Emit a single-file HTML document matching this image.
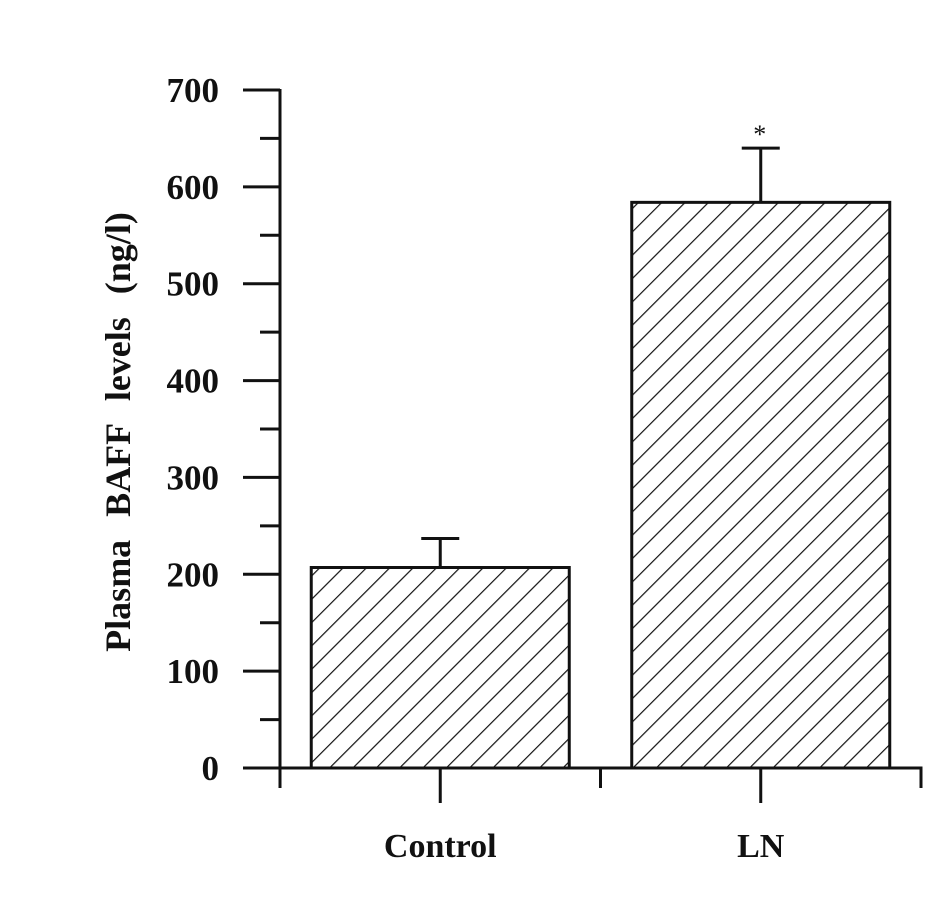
<!DOCTYPE html>
<html><head><meta charset="utf-8"><style>
html,body{margin:0;padding:0;background:#fff;width:945px;height:904px;overflow:hidden}
text{font-family:"Liberation Serif",serif;font-weight:bold;fill:#111}
</style></head><body>
<svg id="chart" width="945" height="904" xmlns="http://www.w3.org/2000/svg">
<defs>
<pattern id="hatch" patternUnits="userSpaceOnUse" width="16.5" height="16.5" patternTransform="rotate(45)">
<line x1="0" y1="0" x2="0" y2="16.5" stroke="#111" stroke-width="2.4"/>
</pattern>
</defs>
<g id="plot"></g>
</svg>
<script>
const categories = ["Control", "LN"];
const values = [207, 584];
const errors = [30, 56];
const sigMarks = ["", "*"];
const yTicks = [0, 100, 200, 300, 400, 500, 600, 700];

const NS = "http://www.w3.org/2000/svg";
const g = document.getElementById("plot");
const X0 = 280, X1 = 921, Y0 = 768, Y1 = 90, YMAX = 700;
const y = v => Y0 - (v / YMAX) * (Y0 - Y1);
const slotW = (X1 - X0) / categories.length;
const xc = i => X0 + slotW * (i + 0.5);
const barW = 258;

function mk(tag, attrs) {
  const e = document.createElementNS(NS, tag);
  for (const k in attrs) e.setAttribute(k, attrs[k]);
  g.appendChild(e);
  return e;
}
const S = {stroke: "#111", "stroke-width": 3};

categories.forEach((c, i) => {
  const top = y(values[i]);
  const r = mk("rect", {x: xc(i) - barW / 2, y: top, width: barW, height: Y0 - top, fill: "url(#hatch)", stroke: "#111", "stroke-width": 3});
  
  
  const et = y(values[i] + errors[i]);
  const el = mk("line", Object.assign({x1: xc(i), x2: xc(i), y1: top, y2: et}, S));
  
  
  const cap = mk("line", Object.assign({x1: xc(i) - 19, x2: xc(i) + 19, y1: et, y2: et}, S));
  
  
  if (sigMarks[i]) {
    const t = mk("text", {x: xc(i) - 1, y: et - 5, "text-anchor": "middle", "font-size": 26, style: "font-weight:normal"});
    t.textContent = sigMarks[i];
    
    
  }
  const lab = mk("text", {x: xc(i), y: 857, "text-anchor": "middle", "font-size": 34});
  lab.textContent = c;
  
  
  const tk = mk("line", Object.assign({x1: xc(i), x2: xc(i), y1: Y0, y2: 803}, S));
  
  
});

const ya = mk("line", Object.assign({x1: X0, x2: X0, y1: Y1 - 1, y2: 788}, S));


const xa = mk("line", Object.assign({x1: 243, x2: X1 + 1.5, y1: Y0, y2: Y0}, S));


for (let i = 1; i <= categories.length; i++) {
  const t = mk("line", Object.assign({x1: X0 + slotW * i, x2: X0 + slotW * i, y1: Y0, y2: 788}, S));
  
  
}
yTicks.forEach((v, i) => {
  const t = mk("line", Object.assign({x1: 243, x2: X0, y1: y(v), y2: y(v)}, S));
  
  
  const l = mk("text", {x: 219, y: y(v) + 12, "text-anchor": "end", "font-size": 35});
  l.textContent = v;
  
  
  if (i < yTicks.length - 1) {
    const m = (v + yTicks[i + 1]) / 2;
    const mt = mk("line", Object.assign({x1: 260, x2: X0, y1: y(m), y2: y(m)}, S));
    
    
  }
});
const yt = mk("text", {x: 0, y: 0, "text-anchor": "middle", "font-size": 36, style: "word-spacing:14px", transform: "translate(130,432) rotate(-90)"});
yt.textContent = "Plasma BAFF levels (ng/l)";


</script>
</body></html>
